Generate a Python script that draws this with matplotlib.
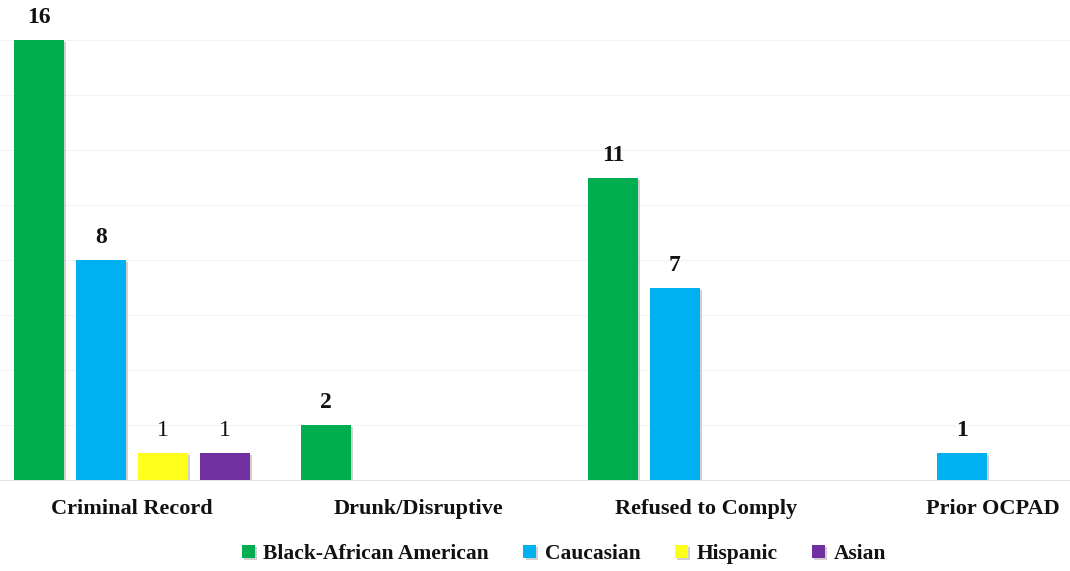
import matplotlib
matplotlib.use("Agg")
import matplotlib.pyplot as plt
import matplotlib.patheffects as pe
import numpy as np

categories = ["Criminal Record", "Drunk/Disruptive", "Refused to Comply", "Prior OCPAD"]
series_names = ["Black-African American", "Caucasian", "Hispanic", "Asian"]
black_african_american = [16, 2, 11, 0]
caucasian = [8, 0, 7, 1]
hispanic = [1, 0, 0, 0]
asian = [1, 0, 0, 0]

series_values = [black_african_american, caucasian, hispanic, asian]
colors = ["#00AD4F", "#00B0F0", "#FFFF1C", "#7030A0"]
label_weights = ["bold", "bold", "normal", "normal"]

plt.rcParams["font.family"] = ["Liberation Serif", "DejaVu Serif"]

fig = plt.figure(figsize=(10.70, 5.71), dpi=100)
fig.patch.set_facecolor("white")
ax = fig.add_axes([0.0, 91 / 571, 1.0, (571 - 91 - 25) / 571])
ax.set_facecolor("none")

x = np.arange(len(categories))
slot = 62 / 287
width = 50 / 287
n = len(series_values)

for i, (vals, col, name, w) in enumerate(zip(series_values, colors, series_names, label_weights)):
    offs = (i - (n - 1) / 2) * slot
    bars = ax.bar(x + offs, vals, width, color=col, label=name, zorder=3,
                  path_effects=[pe.SimplePatchShadow(offset=(1.5, -1.5), shadow_rgbFace="#666666", alpha=0.3),
                                pe.Normal()])
    for b, v in zip(bars, vals):
        if v > 0:
            ax.annotate(str(v), (b.get_x() + b.get_width() / 2, v),
                        xytext=(0, 16), textcoords="offset points",
                        ha="center", va="center", fontsize=17, fontweight=w,
                        color="#111111", zorder=4)

ax.set_xlim(-132 / 287, (1070 - 132) / 287)
ax.set_ylim(0, (480 - 25) / 27.5)
ax.set_yticks(np.arange(2, 17, 2))
ax.yaxis.grid(True, color="#f3f3f3", linewidth=0.8, zorder=0)
ax.set_axisbelow(True)
ax.set_xticks(x)
ax.set_xticklabels(categories, fontsize=16, fontweight="bold", color="#111111")
ax.tick_params(axis="x", length=0, pad=14)
ax.tick_params(axis="y", length=0, labelleft=False)
for s in ["top", "right", "left"]:
    ax.spines[s].set_visible(False)
ax.spines["bottom"].set_color("#e3e3e3")
ax.spines["bottom"].set_linewidth(0.8)

leg = fig.legend(loc="center", bbox_to_anchor=(564 / 1070, 1 - 554 / 571), ncol=4,
                 frameon=False, handlelength=0.6, handleheight=0.6, handletextpad=0.4,
                 columnspacing=1.6, prop={"size": 15.5, "weight": "bold"})
for t in leg.get_texts():
    t.set_color("#111111")

fig.savefig("out.png", dpi=100, facecolor="white")
